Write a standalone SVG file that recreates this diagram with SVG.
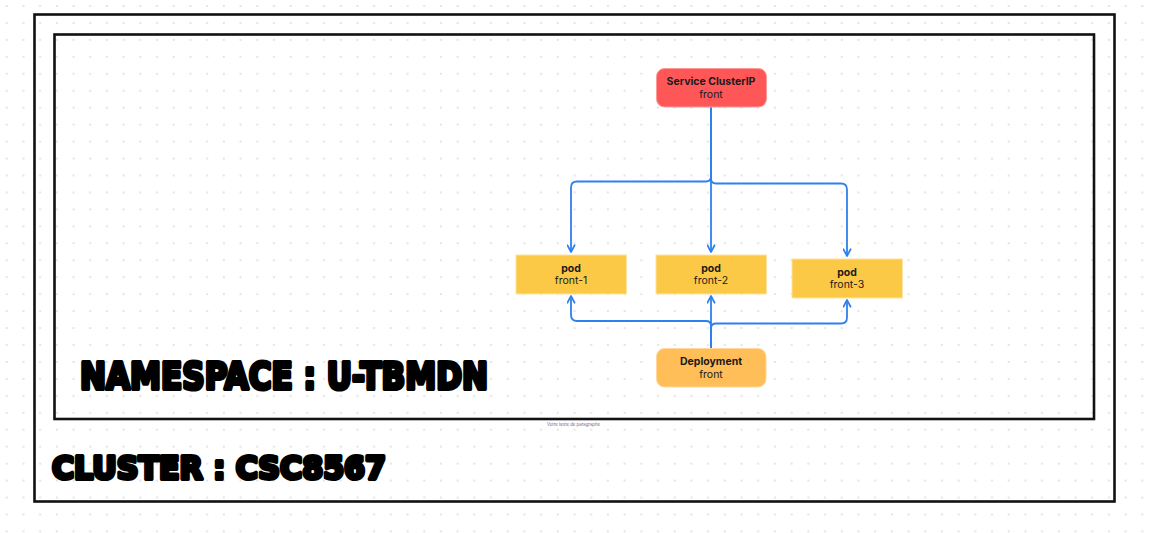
<svg xmlns="http://www.w3.org/2000/svg" width="1153" height="533" viewBox="0 0 1153 533">
<style>
.frame{fill:none;stroke:#111;stroke-width:2.6}
.t{font-family:Inter,"Noto Sans","Liberation Sans",sans-serif;font-size:10.5px;fill:#1a1a1a;text-anchor:middle}
.b{font-weight:700}
.big{font-family:"DejaVu Sans","Liberation Sans",sans-serif;font-weight:700;fill:#000;stroke:#000;stroke-width:4;stroke-linejoin:round;paint-order:stroke}
.c{fill:none;stroke:#2f80ef;stroke-width:1.8;stroke-linejoin:round}
</style>
<defs>
<pattern id="dots" patternUnits="userSpaceOnUse" x="0" y="0" width="16.7" height="16.95">
<rect x="5.7" y="5" width="2" height="2" fill="#e3e3ea"/>
</pattern>
<marker id="arr" viewBox="0 0 10 10" refX="9" refY="5" markerWidth="9" markerHeight="9" markerUnits="userSpaceOnUse" orient="auto">
<path d="M1.5,1 L9,5 L1.5,9" fill="none" stroke="#2f80ef" stroke-width="1.9" stroke-linecap="round" stroke-linejoin="round"/>
</marker>
</defs>
<rect width="1153" height="533" fill="#fff"/>
<rect width="1153" height="533" fill="url(#dots)"/>
<g id="cluster">
<rect class="frame" x="34.5" y="14.5" width="1080" height="487"/>
<text class="big" x="52" y="479" font-size="32" textLength="334" lengthAdjust="spacingAndGlyphs">CLUSTER : CSC8567</text>
</g>
<g id="namespace">
<rect class="frame" x="54.5" y="34.5" width="1039.5" height="384.5"/>
<text class="big" x="80" y="389" font-size="37" textLength="408" lengthAdjust="spacingAndGlyphs">NAMESPACE : U-TBMDN</text>
</g>
<text x="547" y="425.5" font-family="Inter,'Liberation Sans',sans-serif" font-size="4.5" fill="#6b5f86" textLength="53" lengthAdjust="spacingAndGlyphs">Votre texte de paragraphe</text>
<g id="connectors">
<path class="c" d="M711,107 V252" marker-end="url(#arr)"/>
<path class="c" d="M711,107 V176.5 Q711,181.5 706,181.5 H577 Q571,181.5 571,187.5 V252" marker-end="url(#arr)"/>
<path class="c" d="M711,107 V178.5 Q711,183.5 716,183.5 H841 Q847,183.5 847,189.5 V256" marker-end="url(#arr)"/>
<path class="c" d="M711,348 V296" marker-end="url(#arr)"/>
<path class="c" d="M711,348 V326 Q711,321 706,321 H577 Q571,321 571,315 V296" marker-end="url(#arr)"/>
<path class="c" d="M711,348 V328.5 Q711,323.5 716,323.5 H841 Q847,323.5 847,317.5 V300" marker-end="url(#arr)"/>
</g>
<g id="service">
<rect x="656.5" y="68.5" width="110" height="38.5" rx="8" fill="#ff5757" stroke="#ff9a9a" stroke-width="1"/>
<text class="t b" x="711" y="85">Service ClusterIP</text>
<text class="t" x="711" y="97.5">front</text>
</g>
<g id="pod1">
<rect x="516" y="255" width="110.5" height="39" fill="#fcc947" stroke="#fde4a0" stroke-width="1"/>
<text class="t b" x="571" y="271.5">pod</text>
<text class="t" x="571" y="284">front-1</text>
</g>
<g id="pod2">
<rect x="656" y="255" width="110.5" height="39" fill="#fcc947" stroke="#fde4a0" stroke-width="1"/>
<text class="t b" x="711" y="271.5">pod</text>
<text class="t" x="711" y="284">front-2</text>
</g>
<g id="pod3">
<rect x="792" y="259" width="110.5" height="39" fill="#fcc947" stroke="#fde4a0" stroke-width="1"/>
<text class="t b" x="847" y="275.5">pod</text>
<text class="t" x="847" y="288">front-3</text>
</g>
<g id="deployment">
<rect x="656.5" y="348.5" width="109.5" height="38.5" rx="8" fill="#ffbe57" stroke="#ffd89a" stroke-width="1"/>
<text class="t b" x="711" y="365">Deployment</text>
<text class="t" x="711" y="377.5">front</text>
</g>
</svg>
